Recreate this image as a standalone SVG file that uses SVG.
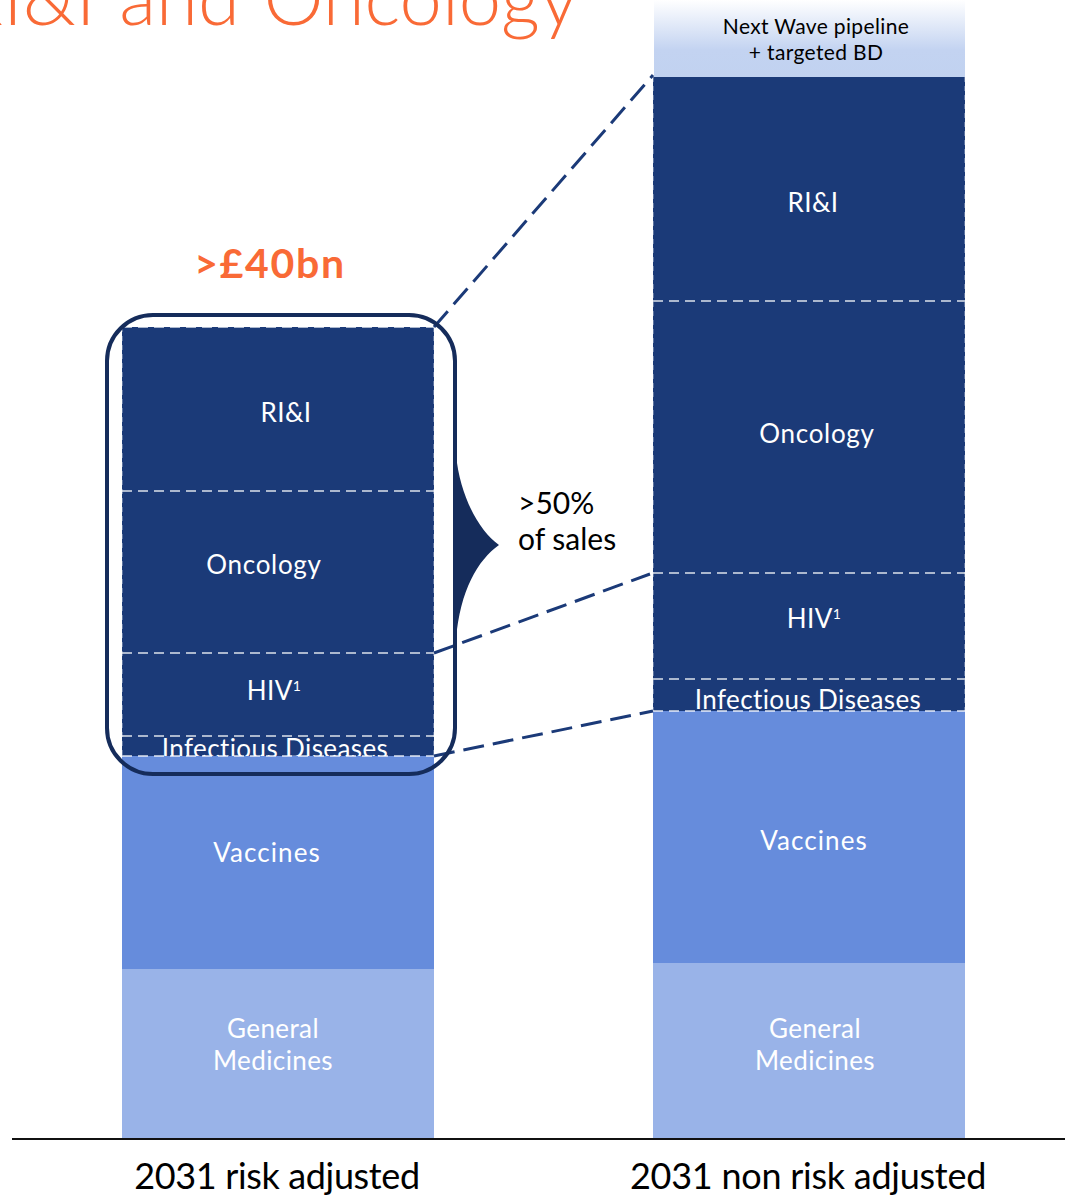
<svg xmlns="http://www.w3.org/2000/svg" width="1065" height="1195" viewBox="0 0 1065 1195">
<style>
text{font-family:"Lato","Liberation Sans",sans-serif}
.l{fill:#fff;font-size:26px;text-anchor:middle;letter-spacing:.4px}
.k{fill:#000;text-anchor:middle}
.seg{fill:none;stroke:#fff;stroke-width:1.3;stroke-dasharray:10 6;opacity:.85}
.side{fill:none;stroke:#fff;stroke-width:1;stroke-dasharray:5 4;opacity:.6}
.con{fill:none;stroke:#1b3a78;stroke-width:3;stroke-dasharray:21 9}
</style>
<defs><linearGradient id="g" x1="0" y1="0" x2="0" y2="1"><stop offset="0" stop-color="#fff"/><stop offset=".65" stop-color="#c3d3f1"/><stop offset="1" stop-color="#c1d2f0"/></linearGradient></defs>
<text id="title" x="578" y="25" font-size="76" font-weight="300" word-spacing="3" fill="#f96a36" text-anchor="end">RI&amp;I and Oncology</text>
<text id="total" x="270" y="278" font-size="41" font-weight="700" letter-spacing="1.7" fill="#f96a36" text-anchor="middle">&gt;£40bn</text>
<g id="bar-left">
<g id="l-rii"><rect x="122" y="327" width="312" height="164" fill="#1b3a78"/><text class="l" x="286" y="422">RI&amp;I</text></g>
<g id="l-onc"><rect x="122" y="491" width="312" height="162" fill="#1b3a78"/><text class="l" x="264" y="574" style="letter-spacing:.7px">Oncology</text></g>
<g id="l-hiv"><rect x="122" y="653" width="312" height="83" fill="#1b3a78"/><text class="l" x="274" y="700">HIV<tspan font-size="14" dy="-9">1</tspan></text></g>
<g id="l-inf"><rect x="122" y="736" width="312" height="20" fill="#1b3a78"/><text class="l" x="275" y="758">Infectious Diseases</text></g>
<g id="l-vac"><rect x="122" y="756" width="312" height="213" fill="#668cdc"/><text class="l" x="267" y="862" style="letter-spacing:1.1px">Vaccines</text></g>
<g id="l-gen"><rect x="122" y="969" width="312" height="169" fill="#99b3e8"/><text class="l" x="273" y="1038">General</text><text class="l" x="273" y="1070">Medicines</text></g>
<path class="side" d="M122 327V756M434 327V756"/>
<path class="seg" d="M122 327H434M122 491H434M122 653H434M122 736H434M122 756H434"/>
</g>
<g id="bar-right">
<g id="r-next"><rect x="654" y="0" width="311" height="77" fill="url(#g)"/><text class="k" font-size="21" letter-spacing=".35" x="816" y="34">Next Wave pipeline</text><text class="k" font-size="21" letter-spacing=".35" x="816" y="60">+ targeted BD</text></g>
<g id="r-rii"><rect x="653" y="77" width="312" height="224" fill="#1b3a78"/><text class="l" x="813" y="212">RI&amp;I</text></g>
<g id="r-onc"><rect x="653" y="301" width="312" height="272" fill="#1b3a78"/><text class="l" x="817" y="443" style="letter-spacing:.7px">Oncology</text></g>
<g id="r-hiv"><rect x="653" y="573" width="312" height="106" fill="#1b3a78"/><text class="l" x="814" y="628">HIV<tspan font-size="14" dy="-9">1</tspan></text></g>
<g id="r-inf"><rect x="653" y="679" width="312" height="32" fill="#1b3a78"/><text class="l" x="808" y="709">Infectious Diseases</text></g>
<g id="r-vac"><rect x="653" y="711" width="312" height="252" fill="#668cdc"/><text class="l" x="814" y="850" style="letter-spacing:1.1px">Vaccines</text></g>
<g id="r-gen"><rect x="653" y="963" width="312" height="175" fill="#99b3e8"/><text class="l" x="815" y="1038">General</text><text class="l" x="815" y="1070">Medicines</text></g>
<path class="side" d="M653 77V711M965 77V711"/>
<path class="seg" d="M653 301H965M653 573H965M653 679H965M653 711H965"/>
</g>
<g id="connectors">
<path class="con" d="M434 327L653 75"/>
<path class="con" d="M434 653L650 574"/>
<path class="con" d="M434 756L653 711"/>
</g>
<g id="bracket">
<rect x="107" y="315" width="348" height="459" rx="46" fill="none" stroke="#152c5b" stroke-width="4"/>
<path d="M453 455H456C460 495 478 530 499 545C478 560 460 590 456 640H453Z" fill="#152c5b"/>
</g>
<g id="note"><text font-size="30" x="518" y="514">&gt;50%</text><text font-size="30" x="518" y="550">of sales</text></g>
<path id="axis" d="M12 1139H1065" stroke="#111" stroke-width="2"/>
<text id="lab-l" class="k" font-size="36" letter-spacing="-.35" x="277" y="1189">2031 risk adjusted</text>
<text id="lab-r" class="k" font-size="36" letter-spacing="-.25" x="808" y="1189">2031 non risk adjusted</text>
</svg>
